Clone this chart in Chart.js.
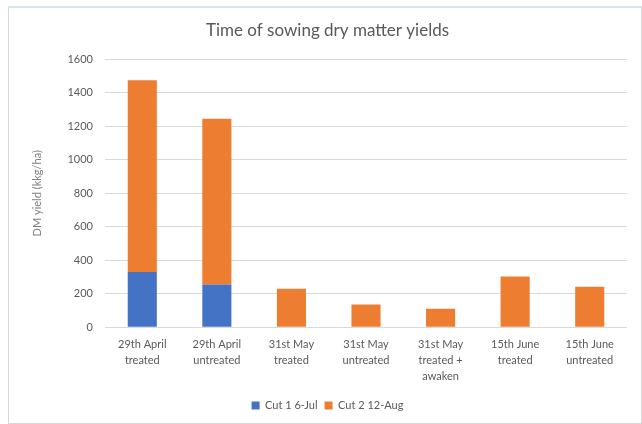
<!DOCTYPE html>
<html><head><meta charset="utf-8">
<script src="https://cdn.jsdelivr.net/npm/chart.js@4"></script>
<style>
html,body{margin:0;padding:0;background:#fff;}
#wrap{position:absolute;left:0;top:0;width:642px;height:424px;}
#frame{position:absolute;left:8px;top:6px;width:634px;height:418px;border:1px solid #d9d9d9;border-top:2px solid #d6e9ee;box-sizing:border-box;pointer-events:none;}
canvas{position:absolute;left:0;top:0;}
</style></head>
<body>
<div id="wrap"><canvas id="c" width="642" height="424"></canvas><div id="frame"></div></div>
<script>
const categories = [
  ["29th April","treated"],
  ["29th April","untreated"],
  ["31st May","treated"],
  ["31st May","untreated"],
  ["31st May","treated +","awaken"],
  ["15th June","treated"],
  ["15th June","untreated"]
];
const cut1 = [330, 255, null, null, null, null, null];
const cut2 = [1145, 990, 230, 136, 110, 302, 242];
const seriesNames = ["Cut 1 6-Jul", "Cut 2 12-Aug"];
const yTicks = [0,200,400,600,800,1000,1200,1400,1600];

const FONT = "Lato, 'Liberation Sans', sans-serif";
const GREY = "#595959";

new Chart(document.getElementById('c'), {
  type: 'bar',
  data: {
    labels: categories,
    datasets: [
      {label: seriesNames[0], data: cut1, backgroundColor: '#4472C4', barPercentage: 0.39, categoryPercentage: 1},
      {label: seriesNames[1], data: cut2, backgroundColor: '#ED7D31', barPercentage: 0.39, categoryPercentage: 1}
    ]
  },
  options: {
    responsive: false,
    animation: false,
    layout: {padding: {left: 28, right: 15, top: 12, bottom: 3}},
    plugins: {
      title: {display: true, text: 'Time of sowing dry matter yields', color: GREY,
        font: {family: FONT, size: 17, weight: 'normal'}, padding: {top: 8, bottom: 19}},
      legend: {position: 'bottom', labels: {boxWidth: 8, boxHeight: 8, color: GREY,
        font: {family: FONT, size: 11}, padding: 7}},
      tooltip: {enabled: false}
    },
    scales: {
      x: {stacked: true,
        grid: {display: false, drawTicks: false},
        border: {display: false},
        ticks: {color: GREY, font: {family: FONT, size: 11, lineHeight: 1.45}, padding: 9, maxRotation: 0, autoSkip: false}
      },
      y: {stacked: true, min: 0, max: 1600,
        afterBuildTicks: s => { s.ticks = yTicks.map(v => ({value: v})); },
        afterFit: s => { s.width = 77; },
        grid: {color: '#d9d9d9', drawTicks: false},
        border: {display: false},
        ticks: {color: GREY, font: {family: FONT, size: 11}, padding: 12, callback: v => String(v)},
        title: {display: true, text: 'DM yield (kkg/ha)', color: '#7f7f7f', font: {family: FONT, size: 11}, padding: {top: 3, bottom: 0}}
      }
    }
  }
});
</script>
</body></html>
